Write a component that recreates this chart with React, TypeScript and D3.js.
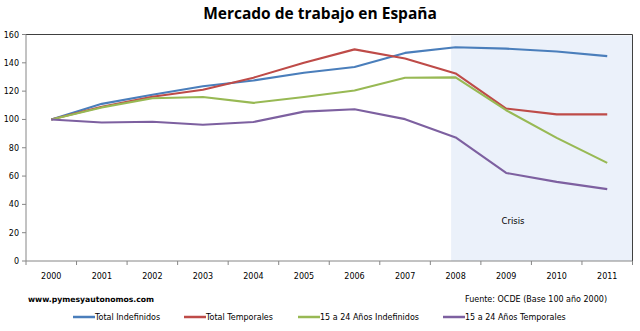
import React from "react";
import * as d3 from "d3";

const years = ["2000","2001","2002","2003","2004","2005","2006","2007","2008","2009","2010","2011"];
const totalIndefinidos = [100, 111, 117.5, 123.5, 127.5, 133, 137, 147, 151, 150, 148, 144.7];
const totalTemporales = [100, 109, 116, 121, 129.5, 140, 149.5, 143, 132.5, 107.7, 103.6, 103.6];
const jovenesIndefinidos = [100, 108.5, 115, 115.8, 111.7, 115.8, 120.4, 129.5, 129.7, 106.5, 87, 69.3];
const jovenesTemporales = [100, 97.8, 98.4, 96.2, 98.2, 105.5, 107.2, 100.2, 87.3, 62.2, 55.9, 50.8];
const yTicks = [0, 20, 40, 60, 80, 100, 120, 140, 160];
const seriesNames = ["Total Indefinidos", "Total Temporales", "15 a 24 Años Indefinidos", "15 a 24 Años Temporales"];
const seriesColors = ["#4A7EBB", "#BE4B48", "#98B954", "#7D60A0"];
const crisisStart = "2008";

const W = 640, H = 331;
const left = 26, right = 632.5, top = 34.5, bottom = 261;
const font = "Tahoma, 'DejaVu Sans', Verdana, sans-serif";

export default function App() {
  const x = d3.scaleBand<string>().domain(years).range([left, right]);
  const y = d3.scaleLinear().domain([0, 160]).range([bottom, top]);
  const cx = (d: string) => (x(d) as number) + x.bandwidth() / 2;
  const allSeries = [totalIndefinidos, totalTemporales, jovenesIndefinidos, jovenesTemporales];
  const line = d3.line<number>().x((_, i) => cx(years[i])).y(d => y(d));
  const crisisX = cx(crisisStart) - 4.5;
  const legendX = [73, 184, 298, 443];
  const tickXs = d3.range(years.length + 1).map(i => left + i * x.bandwidth());

  return (
    <svg width={W} height={H} style={{ position: "absolute", left: 0, top: 0, background: "#fff" }}>
      <rect x={0} y={0} width={W} height={H} fill="#fff" />
      <text x={320} y={19} textAnchor="middle" fontFamily="'Open Sans', 'DejaVu Sans', sans-serif" fontWeight="bold" fontSize={15.5} fill="#000">Mercado de trabajo en España</text>
      <rect x={crisisX} y={top + 1} width={right - crisisX} height={bottom - top - 1} fill="#EBF1FA" />
      <text x={513} y={224} textAnchor="middle" fontFamily={font} fontSize={8.5} fill="#000">Crisis</text>
      <line x1={left} x2={right} y1={top} y2={top} stroke="#404040" strokeWidth={1} />
      <line x1={right} x2={right} y1={top} y2={bottom} stroke="#404040" strokeWidth={1} />
      <line x1={left} x2={left} y1={top} y2={bottom} stroke="#868686" strokeWidth={1} />
      {yTicks.map(t => (
        <g key={t}>
          <line x1={left - 4} x2={left} y1={y(t)} y2={y(t)} stroke="#868686" />
          <text x={left - 7} y={y(t) + 3} textAnchor="end" fontFamily={font} fontSize={8} fill="#000">{t}</text>
        </g>
      ))}
      <line x1={left} x2={right} y1={bottom} y2={bottom} stroke="#868686" strokeWidth={1} />
      {tickXs.map((tx, i) => (
        <line key={i} x1={tx} x2={tx} y1={bottom} y2={bottom + 4} stroke="#868686" />
      ))}
      {years.map(yr => (
        <text key={yr} x={cx(yr)} y={279} textAnchor="middle" fontFamily={font} fontSize={8} fill="#000">{yr}</text>
      ))}
      {allSeries.map((s, i) => (
        <path key={i} d={line(s) as string} fill="none" stroke={seriesColors[i]} strokeWidth={2.1} strokeLinejoin="round" />
      ))}
      <text x={28} y={302} fontFamily={font} fontSize={7.7} fontWeight="bold" fill="#000">www.pymesyautonomos.com</text>
      <text x={607} y={302} textAnchor="end" fontFamily={font} fontSize={8} fill="#000">Fuente: OCDE (Base 100 año 2000)</text>
      {seriesNames.map((n, i) => (
        <g key={n}>
          <line x1={legendX[i]} x2={legendX[i] + 22} y1={317} y2={317} stroke={seriesColors[i]} strokeWidth={2.5} />
          <text x={legendX[i] + 22} y={320} fontFamily={font} fontSize={8} fill="#000">{n}</text>
        </g>
      ))}
    </svg>
  );
}
